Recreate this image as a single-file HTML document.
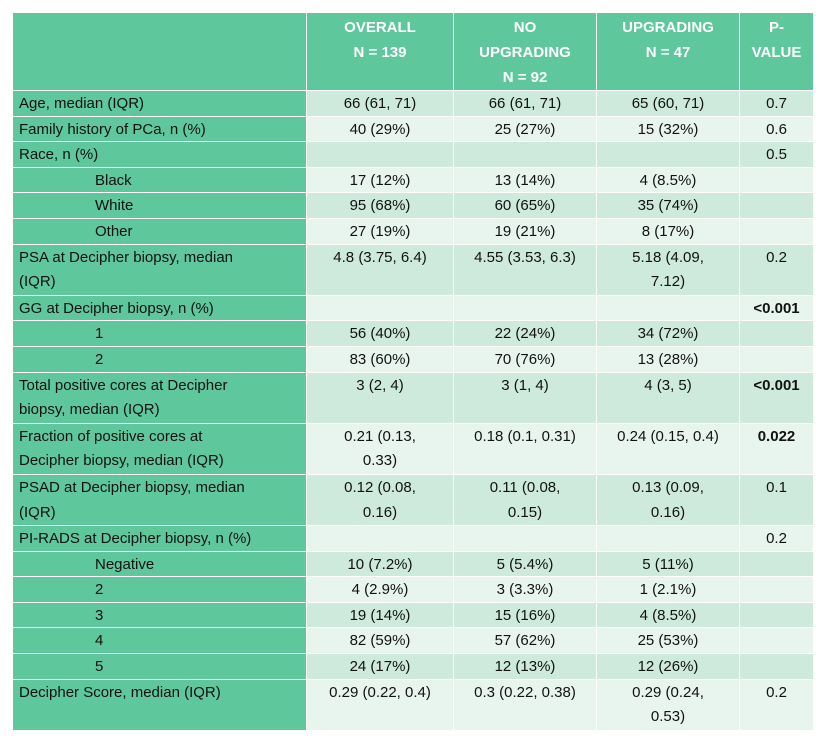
<!DOCTYPE html>
<html><head><meta charset="utf-8"><style>
body{margin:0;background:#fff;width:824px;height:747px;overflow:hidden}
table{position:absolute;left:12px;top:12px;border-collapse:collapse;table-layout:fixed;font-family:"Liberation Sans",Arial,sans-serif;font-size:15px;color:#111}
td,th{border:1.5px solid #fff;padding:0 6px;vertical-align:top;white-space:nowrap;overflow:hidden}
th{background:#5ec79b;color:#fff;font-weight:bold;text-align:center;height:75px;padding-top:2px;line-height:25px}
td.l{background:#5ec79b;text-align:left}
td.i{padding-left:82px}
td.v{text-align:center}
tr.d td.v{background:#cdeadd}
tr.w td.v{background:#e8f5ee}
tr.s td{height:22.6px;line-height:22.6px;padding-top:2px}
tr.b td{height:48.6px;line-height:24.6px;padding-top:1px;white-space:normal}
b{font-weight:bold}
</style></head><body>
<table>
<colgroup><col style="width:294px"><col style="width:147px"><col style="width:143px"><col style="width:143px"><col style="width:74px"></colgroup>
<tr><th></th><th>OVERALL<br>N = 139</th><th>NO<br>UPGRADING<br>N = 92</th><th>UPGRADING<br>N = 47</th><th>P-<br>VALUE</th></tr>
<tr class="s d"><td class="l">Age, median (IQR)</td><td class="v">66 (61, 71)</td><td class="v">66 (61, 71)</td><td class="v">65 (60, 71)</td><td class="v">0.7</td></tr>
<tr class="s w"><td class="l">Family history of PCa, n (%)</td><td class="v">40 (29%)</td><td class="v">25 (27%)</td><td class="v">15 (32%)</td><td class="v">0.6</td></tr>
<tr class="s d"><td class="l">Race, n (%)</td><td class="v"></td><td class="v"></td><td class="v"></td><td class="v">0.5</td></tr>
<tr class="s w"><td class="l i">Black</td><td class="v">17 (12%)</td><td class="v">13 (14%)</td><td class="v">4 (8.5%)</td><td class="v"></td></tr>
<tr class="s d"><td class="l i">White</td><td class="v">95 (68%)</td><td class="v">60 (65%)</td><td class="v">35 (74%)</td><td class="v"></td></tr>
<tr class="s w"><td class="l i">Other</td><td class="v">27 (19%)</td><td class="v">19 (21%)</td><td class="v">8 (17%)</td><td class="v"></td></tr>
<tr class="b d"><td class="l">PSA at Decipher biopsy, median<br>(IQR)</td><td class="v">4.8 (3.75, 6.4)</td><td class="v">4.55 (3.53, 6.3)</td><td class="v">5.18 (4.09,<br>7.12)</td><td class="v">0.2</td></tr>
<tr class="s w"><td class="l">GG at Decipher biopsy, n (%)</td><td class="v"></td><td class="v"></td><td class="v"></td><td class="v"><b>&lt;0.001</b></td></tr>
<tr class="s d"><td class="l i">1</td><td class="v">56 (40%)</td><td class="v">22 (24%)</td><td class="v">34 (72%)</td><td class="v"></td></tr>
<tr class="s w"><td class="l i">2</td><td class="v">83 (60%)</td><td class="v">70 (76%)</td><td class="v">13 (28%)</td><td class="v"></td></tr>
<tr class="b d"><td class="l">Total positive cores at Decipher<br>biopsy, median (IQR)</td><td class="v">3 (2, 4)</td><td class="v">3 (1, 4)</td><td class="v">4 (3, 5)</td><td class="v"><b>&lt;0.001</b></td></tr>
<tr class="b w"><td class="l">Fraction of positive cores at<br>Decipher biopsy, median (IQR)</td><td class="v">0.21 (0.13,<br>0.33)</td><td class="v">0.18 (0.1, 0.31)</td><td class="v">0.24 (0.15, 0.4)</td><td class="v"><b>0.022</b></td></tr>
<tr class="b d"><td class="l">PSAD at Decipher biopsy, median<br>(IQR)</td><td class="v">0.12 (0.08,<br>0.16)</td><td class="v">0.11 (0.08,<br>0.15)</td><td class="v">0.13 (0.09,<br>0.16)</td><td class="v">0.1</td></tr>
<tr class="s w"><td class="l">PI-RADS at Decipher biopsy, n (%)</td><td class="v"></td><td class="v"></td><td class="v"></td><td class="v">0.2</td></tr>
<tr class="s d"><td class="l i">Negative</td><td class="v">10 (7.2%)</td><td class="v">5 (5.4%)</td><td class="v">5 (11%)</td><td class="v"></td></tr>
<tr class="s w"><td class="l i">2</td><td class="v">4 (2.9%)</td><td class="v">3 (3.3%)</td><td class="v">1 (2.1%)</td><td class="v"></td></tr>
<tr class="s d"><td class="l i">3</td><td class="v">19 (14%)</td><td class="v">15 (16%)</td><td class="v">4 (8.5%)</td><td class="v"></td></tr>
<tr class="s w"><td class="l i">4</td><td class="v">82 (59%)</td><td class="v">57 (62%)</td><td class="v">25 (53%)</td><td class="v"></td></tr>
<tr class="s d"><td class="l i">5</td><td class="v">24 (17%)</td><td class="v">12 (13%)</td><td class="v">12 (26%)</td><td class="v"></td></tr>
<tr class="b w"><td class="l">Decipher Score, median (IQR)</td><td class="v">0.29 (0.22, 0.4)</td><td class="v">0.3 (0.22, 0.38)</td><td class="v">0.29 (0.24,<br>0.53)</td><td class="v">0.2</td></tr>
</table>
</body></html>
